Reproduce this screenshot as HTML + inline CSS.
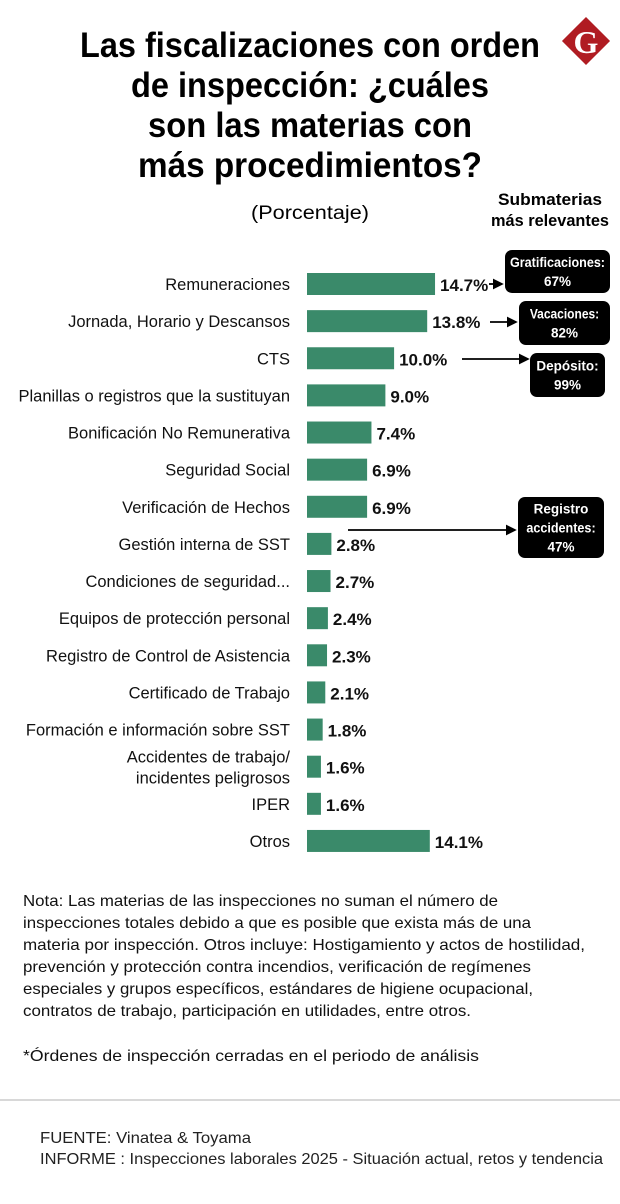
<!DOCTYPE html>
<html><head><meta charset="utf-8">
<style>
html,body{margin:0;padding:0;background:#fff;}
body{width:620px;height:1204px;overflow:hidden;font-family:"Liberation Sans",sans-serif;}
svg{display:block;}
</style></head>
<body>
<svg id="chart" width="620" height="1204" viewBox="0 0 620 1204" xmlns="http://www.w3.org/2000/svg">
<defs><marker id="ah" markerWidth="6" markerHeight="6" refX="5" refY="3" orient="auto"><path d="M0,0 L6,3 L0,6 z" fill="#000"/></marker></defs>
<g font-family="Liberation Sans, sans-serif" font-weight="bold" font-size="35" text-anchor="middle" fill="#000">
<text x="310" y="57" textLength="460" lengthAdjust="spacingAndGlyphs">Las fiscalizaciones con orden</text>
<text x="310" y="97" textLength="358" lengthAdjust="spacingAndGlyphs">de inspección: ¿cuáles</text>
<text x="310" y="137" textLength="324" lengthAdjust="spacingAndGlyphs">son las materias con</text>
<text x="310" y="177" textLength="344" lengthAdjust="spacingAndGlyphs">más procedimientos?</text>
</g>
<g>
<rect x="569" y="24" width="34" height="34" fill="#b01c22" transform="rotate(45 586 41)"/>
<text x="586" y="53" font-family="Liberation Serif, serif" font-weight="bold" font-size="32" fill="#fff" text-anchor="middle">G</text>
</g>
<text x="310" y="219" font-size="19" text-anchor="middle" textLength="118" lengthAdjust="spacingAndGlyphs">(Porcentaje)</text>
<g font-weight="bold" font-size="17" text-anchor="middle">
<text x="550" y="205" textLength="104" lengthAdjust="spacingAndGlyphs">Submaterias</text>
<text x="550" y="226" textLength="118" lengthAdjust="spacingAndGlyphs">más relevantes</text>
</g>
<g id="bars"></g>
<g id="callouts"></g>
<g font-family="Liberation Sans, sans-serif" font-size="16" fill="#111">
<text x="23" y="906" textLength="475" lengthAdjust="spacingAndGlyphs">Nota: Las materias de las inspecciones no suman el número de</text>
<text x="23" y="928" textLength="508" lengthAdjust="spacingAndGlyphs">inspecciones totales debido a que es posible que exista más de una</text>
<text x="23" y="950" textLength="562" lengthAdjust="spacingAndGlyphs">materia por inspección. Otros incluye: Hostigamiento y actos de hostilidad,</text>
<text x="23" y="972" textLength="508" lengthAdjust="spacingAndGlyphs">prevención y protección contra incendios, verificación de regímenes</text>
<text x="23" y="994" textLength="510" lengthAdjust="spacingAndGlyphs">especiales y grupos específicos, estándares de higiene ocupacional,</text>
<text x="23" y="1016" textLength="448" lengthAdjust="spacingAndGlyphs">contratos de trabajo, participación en utilidades, entre otros.</text>
<text x="23" y="1061" textLength="456" lengthAdjust="spacingAndGlyphs">*Órdenes de inspección cerradas en el periodo de análisis</text>
</g>
<line x1="0" y1="1100" x2="620" y2="1100" stroke="#ccc" stroke-width="1.5"/>
<g font-family="Liberation Sans, sans-serif" font-size="16" fill="#222">
<text x="40" y="1143" textLength="211" lengthAdjust="spacingAndGlyphs">FUENTE: Vinatea &amp; Toyama</text>
<text x="40" y="1164" textLength="563" lengthAdjust="spacingAndGlyphs">INFORME : Inspecciones laborales  2025 -  Situación actual, retos y  tendencia</text>
</g>
</svg>
<script>
const categories = ["Remuneraciones","Jornada, Horario y Descansos","CTS","Planillas o registros que la sustituyan","Bonificación No Remunerativa","Seguridad Social","Verificación de Hechos","Gestión interna de SST","Condiciones de seguridad...","Equipos de protección personal","Registro de Control de Asistencia","Certificado de Trabajo","Formación e información sobre SST","Accidentes de trabajo/|incidentes peligrosos","IPER","Otros"];
const values = [14.7,13.8,10.0,9.0,7.4,6.9,6.9,2.8,2.7,2.4,2.3,2.1,1.8,1.6,1.6,14.1];
const valueLabels = ["14.7%","13.8%","10.0%","9.0%","7.4%","6.9%","6.9%","2.8%","2.7%","2.4%","2.3%","2.1%","1.8%","1.6%","1.6%","14.1%"];
const calloutTitles = ["Gratificaciones:","Vacaciones:","Depósito:","Registro|accidentes:"];
const calloutValues = ["67%","82%","99%","47%"];

const NS="http://www.w3.org/2000/svg";
const x0=307, pxPer=8.71;
const xScale=v=>x0+v*pxPer;
const yScale=i=>284+i*37.13;
function mk(tag,attrs,parent){const e=document.createElementNS(NS,tag);for(const k in attrs)e.setAttribute(k,attrs[k]);parent.appendChild(e);return e;}
const g=document.getElementById('bars');
categories.forEach((c,i)=>{
  const y=yScale(i);
  const r=mk('rect',{x:x0,y:y-11,width:xScale(values[i])-x0,height:22,fill:'#3a8a6a'},g);
  
  
  const parts=c.split('|');
  const t=mk('text',{x:290,'text-anchor':'end','font-size':'16.5',fill:'#111','font-family':'Liberation Sans, sans-serif'},g);
  
  
  if(parts.length===1){t.setAttribute('y',y+6);t.textContent=c;}
  else{parts.forEach((p,k)=>{const ts=mk('tspan',{x:290,y:y-4+k*21},t);ts.textContent=p;});}
  const v=mk('text',{x:xScale(values[i])+5,y:y+7,'font-size':'17','font-weight':'bold',fill:'#111','font-family':'Liberation Sans, sans-serif'},g);
  
  
  v.textContent=valueLabels[i];
});
const cg=document.getElementById('callouts');
const boxes=[[505,250,105,43,284,489,502],[519,301,91,44,322,490,516],[530,353,75,44,359,462,528],[518,497,86,61,530,348,515]];
boxes.forEach((b,i)=>{
  const a=mk('line',{x1:b[5],y1:b[4],x2:b[6],y2:b[4],stroke:'#000','stroke-width':1.8,'marker-end':'url(#ah)'},cg);
  
  
  const r=mk('rect',{x:b[0],y:b[1],width:b[2],height:b[3],rx:7,fill:'#000'},cg);
  
  
  const cx=b[0]+b[2]/2;
  const lines=calloutTitles[i].split('|').concat([calloutValues[i]]);
  const t=mk('text',{'text-anchor':'middle','font-size':'13.5','font-weight':'bold',fill:'#fff'},cg);
  
  
  const start=b[1]+b[3]/2-(lines.length-1)*9.5+5;
  lines.forEach((l,k)=>{
    const ts=mk('tspan',{x:cx,y:start+k*19},t);
    if(l.length>9){ts.setAttribute('textLength',Math.min(b[2]-10,l.length*6.3));ts.setAttribute('lengthAdjust','spacingAndGlyphs');}
    ts.textContent=l;
  });
});
</script>
</body></html>
